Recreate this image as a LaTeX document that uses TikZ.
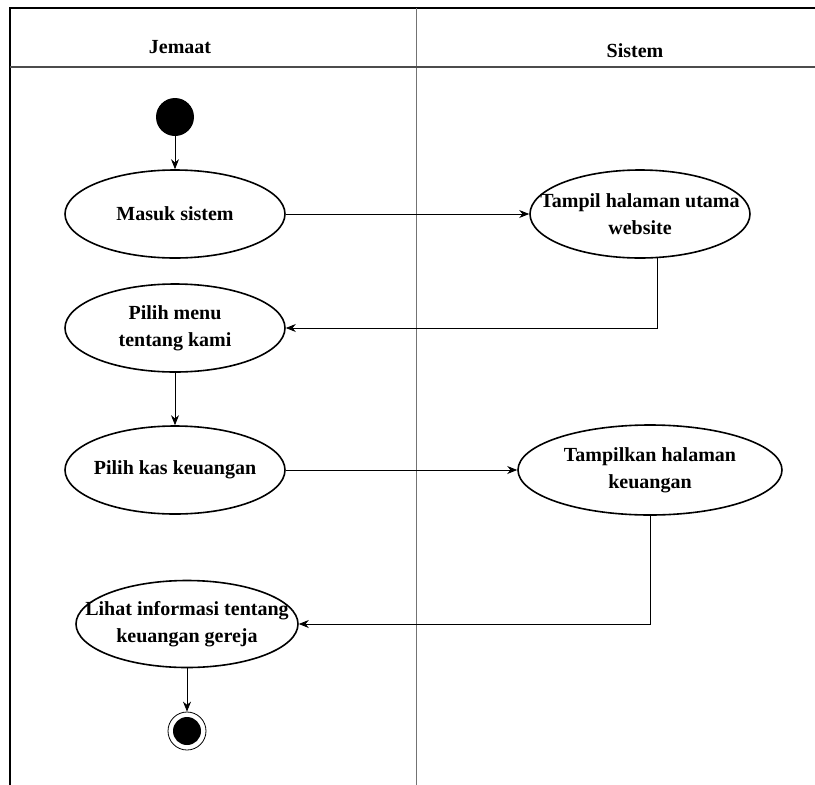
\documentclass[tikz,border=0pt]{standalone}
\usepackage{fontspec}
\setmainfont{Liberation Serif}
\usetikzlibrary{arrows.meta, shapes.geometric}

\begin{document}
\begin{tikzpicture}[x=1pt, y=-1pt,
    act/.style={draw, ellipse, line width=1.6pt, minimum width=220pt, minimum height=88pt, inner sep=0pt},
    txt/.style={font=\fontsize{20}{27}\selectfont\bfseries, align=center},
    flow/.style={-{Stealth[length=10pt, width=8pt]}, line width=0.8pt},
    lane/.style={line width=1.2pt}]

% Frame
\useasboundingbox (0, 0) rectangle (815, 785);
\draw[lane] (10, 785) -- (10, 8) -- (815, 8);
\draw[line width=0.8pt, black!55] (416, 8) -- (416, 785);
\draw[line width=1.8pt, black!70] (10, 67) -- (815, 67);

% Lanes
\node[txt, anchor=base] (jemaat) at (180, 53) {Jemaat};
\node[txt, anchor=base] (sistem) at (635, 57) {Sistem};

% Start
\node[circle, fill=black, minimum size=38pt, inner sep=0pt] (start) at (175, 117) {};

% Activities
\node[act, label={[txt]center:Masuk sistem}] (masuk) at (175, 214) {};
\node[act, label={[txt]center:Tampil halaman utama\\website}] (tampil) at (640, 214) {};
\node[act, label={[txt]center:Pilih menu\\tentang kami}] (menu) at (175, 328) {};
\node[act, label={[txt]center:Pilih kas keuangan}] (kas) at (175, 470) {};
\node[act, minimum width=264pt, minimum height=90pt, label={[txt]center:Tampilkan halaman\\keuangan}] (halaman) at (650, 470) {};
\node[act, minimum width=222pt, minimum height=87pt, label={[txt]center:Lihat informasi tentang\\keuangan gereja}] (lihat) at (187, 624) {};

% End
\node[circle, draw, line width=0.8pt, minimum size=38pt, inner sep=0pt] (end) at (187, 731) {};
\fill (end.center) circle (14pt);

% Flows
\draw[flow] (start) -- (masuk);
\draw[flow] (masuk) -- (tampil);
\draw[flow] (tampil.-68) |- (menu.east);
\draw[flow] (menu) -- (kas);
\draw[flow] (kas) -- (halaman);
\draw[flow] (halaman.south) |- (lihat.east);
\draw[flow] (lihat) -- (end);

\end{tikzpicture}
\end{document}
